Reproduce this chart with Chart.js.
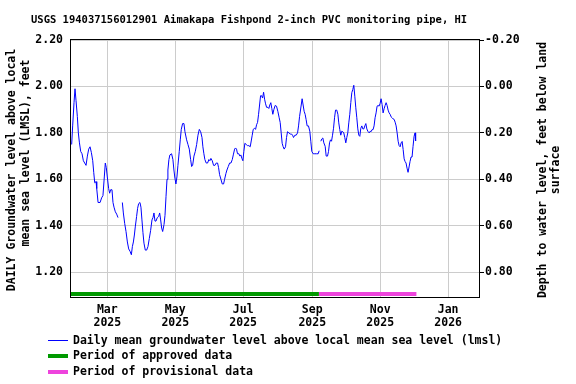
<!DOCTYPE html>
<html>
<head>
<meta charset="utf-8">
<script src="https://cdn.jsdelivr.net/npm/chart.js@4/dist/chart.umd.min.js"></script>
<style>
  body { margin: 0; background: #fff; }
  canvas { display: block; }
</style>
</head>
<body>
<canvas id="myChart" width="576" height="384"></canvas>
<script>
'use strict';

// days counted from 2025-01-01 (day 0), levels in feet above LMSL
let days = [
  27.0, 27.9, 29.1, 30.0, 30.9, 32.1, 33.0, 33.9, 35.1, 36.3, 37.5, 38.7, 39.9, 41.1, 42.3, 43.5,
  44.7, 45.9, 46.8, 47.7, 48.9, 49.5, 50.7, 52.5, 53.9, 55.1, 56.3, 57.2, 58.1, 59.0, 60.2, 61.1,
  62.0, 63.2, 64.1, 65.0, 66.2, 67.4, 68.6, 70.5, 72.5, 73.4, 74.6, 75.8, 77.0, 78.2, 79.4, 80.6,
  81.5, 82.4, 83.3, 84.1, 85.3, 86.2, 87.1, 88.3, 89.2, 90.1, 91.0, 91.9, 93.1, 94.3, 95.5, 96.7,
  97.9, 99.1, 100.0, 100.9, 101.8, 102.7, 103.9, 105.1, 106.0, 106.9, 107.8, 108.7, 109.9, 110.8,
  111.7, 112.6, 113.4, 114.3, 115.2, 116.7, 117.9, 118.8, 119.7, 120.6, 121.5, 122.4, 123.6, 124.5,
  125.4, 126.6, 127.8, 128.7, 130.2, 131.4, 132.6, 133.8, 134.7, 135.6, 136.8, 138.0, 139.2, 140.4,
  141.6, 142.8, 144.0, 144.8, 145.7, 146.6, 147.8, 149.0, 150.2, 151.1, 152.0, 153.2, 154.4, 155.6,
  156.8, 158.0, 158.9, 159.8, 161.0, 162.2, 163.4, 164.3, 165.5, 166.4, 167.6, 168.8, 170.0, 171.2,
  172.1, 173.3, 174.1, 175.0, 175.9, 177.1, 178.0, 178.9, 179.8, 180.7, 181.6, 182.5, 183.7, 184.9,
  186.1, 187.3, 188.2, 189.1, 190.0, 191.2, 192.1, 193.0, 193.9, 194.8, 195.7, 196.6, 197.5, 198.4,
  199.3, 200.2, 201.1, 202.0, 203.2, 204.0, 204.9, 205.8, 206.7, 207.6, 208.5, 209.7, 210.9, 212.1,
  213.3, 214.2, 215.1, 216.0, 216.9, 217.8, 219.0, 219.9, 220.8, 222.0, 223.2, 224.4, 225.3, 226.2,
  227.4, 228.6, 229.8, 230.7, 231.6, 233.1, 233.9, 234.8, 235.7, 236.6, 237.5, 238.4, 239.6, 240.8,
  241.7, 242.6, 243.8, 245.3, 246.8, 248.3, 249.2, 250.0, 250.7, 251.6, 252.5, 253.4, 254.6, 255.5,
  256.7, 257.6, 258.5, 259.4, 260.3, 261.2, 262.1, 263.0, 263.9, 265.0, 266.0, 266.8, 267.7, 268.6,
  269.5, 270.4, 271.3, 272.2, 273.1, 274.0, 274.9, 275.8, 276.7, 277.6, 278.5, 279.4, 280.3, 281.2,
  282.1, 283.0, 283.9, 284.8, 285.7, 286.6, 287.5, 288.4, 289.3, 290.2, 291.1, 292.0, 292.9, 294.1,
  295.0, 295.8, 296.7, 297.6, 298.5, 299.4, 300.3, 301.2, 302.1, 303.0, 303.9, 304.8, 305.7, 306.6,
  307.5, 308.4, 309.3, 310.2, 311.1, 312.0, 312.9, 313.8, 314.7, 315.6, 316.5, 317.4, 318.3, 319.2,
  320.1, 321.0, 321.9, 322.8, 323.7, 324.6, 325.5, 326.3, 327.2, 328.1, 329.0, 329.9, 330.8, 331.7,
  332.6, 333.5, 334.4, 335.3, 335.8
];
let levels = [
  1.75, 1.83, 1.93, 1.99, 1.94, 1.87, 1.80, 1.76, 1.72, 1.71, 1.68, 1.67, 1.66, 1.70, 1.73, 1.74,
  1.715, 1.68, 1.63, 1.585, 1.59, 1.56, 1.50, 1.50, 1.52, 1.53, 1.61, 1.67, 1.65, 1.61, 1.56, 1.54,
  1.555, 1.555, 1.50, 1.48, 1.46, 1.45, 1.435, null, 1.50, 1.455, 1.41, 1.375, 1.33, 1.30, 1.29, 1.275,
  1.31, 1.33, 1.36, 1.395, 1.44, 1.475, 1.495, 1.50, 1.48, 1.425, 1.37, 1.325, 1.295, 1.295, 1.31, 1.345,
  1.38, 1.425, 1.435, 1.455, 1.42, 1.42, 1.435, 1.44, 1.455, 1.425, 1.39, 1.375, 1.405, 1.445,
  1.525, 1.60, 1.64, 1.685, 1.705, 1.71, 1.685, 1.64, 1.605, 1.58, 1.61, 1.66, 1.72, 1.77,
  1.815, 1.84, 1.84, 1.805, 1.77, 1.75, 1.73, 1.685, 1.655, 1.66, 1.70, 1.72, 1.75, 1.79,
  1.815, 1.805, 1.78, 1.74, 1.71, 1.685, 1.67, 1.67, 1.685, 1.68, 1.69, 1.68, 1.66, 1.66,
  1.67, 1.67, 1.65, 1.62, 1.60, 1.58, 1.58, 1.60, 1.625, 1.64, 1.655, 1.67, 1.67, 1.685,
  1.705, 1.73, 1.735, 1.73, 1.71, 1.71, 1.70, 1.705, 1.69, 1.68, 1.72, 1.755, 1.75, 1.745,
  1.745, 1.74, 1.765, 1.79, 1.815, 1.82, 1.815, 1.835, 1.845, 1.88, 1.92, 1.96, 1.96, 1.95,
  1.975, 1.945, 1.925, 1.91, 1.91, 1.905, 1.92, 1.93, 1.905, 1.88, 1.90, 1.918, 1.915, 1.893,
  1.865, 1.845, 1.80, 1.755, 1.74, 1.73, 1.74, 1.78, 1.805, 1.80, 1.795, 1.795, 1.79, 1.78,
  1.79, 1.79, 1.80, 1.83, 1.87, 1.92, 1.947, 1.92, 1.893, 1.88, 1.857, 1.83, 1.83, 1.807,
  1.764, 1.72, 1.71, 1.71, 1.71, 1.71, 1.723, null, 1.764, 1.774, 1.778, 1.757, 1.742, 1.70,
  1.70, 1.72, 1.757, 1.77, 1.764, 1.79, 1.82, 1.865, 1.898, 1.898, 1.88, 1.843, 1.814, 1.79,
  1.807, 1.805, 1.80, 1.78, 1.757, 1.78, 1.80, 1.843, 1.88, 1.93, 1.973, 1.987, 2.005, 1.958,
  1.908, 1.865, 1.817, 1.79, 1.785, 1.82, 1.83, 1.817, 1.817, 1.83, 1.84, 1.817, 1.807, 1.80,
  1.807, 1.805, 1.814, 1.814, 1.83, 1.865, 1.886, 1.915, 1.918, 1.915, 1.927, 1.947, 1.922, 1.886,
  1.904, 1.918, 1.93, 1.918, 1.898, 1.886, 1.88, 1.869, 1.865, 1.86, 1.858, 1.846, 1.83, 1.80,
  1.764, 1.745, 1.74, 1.757, 1.763, 1.728, 1.688, 1.677, 1.67, 1.648, 1.63, 1.653, 1.677, 1.696,
  1.696, 1.742, 1.785, 1.80, 1.765
];

// land surface is 2.00 ft above LMSL -> depth = 2.00 - level
let landSurface = 2.0;

let tickDays = [59, 120, 181, 243, 304, 365];
let tickMonths = ['Mar', 'May', 'Jul', 'Sep', 'Nov', 'Jan'];
let tickYears = ['2025', '2025', '2025', '2025', '2025', '2026'];

let levelTicks = [1.2, 1.4, 1.6, 1.8, 2.0, 2.2];
let depthTicks = [-0.2, 0.0, 0.2, 0.4, 0.6, 0.8];

let approvedPeriod = [26.4, 249.0];
let provisionalPeriod = [249.0, 336.5];

let xMin = 26.4, xMax = 392.7;
let yMin = 1.093, yMax = 2.2;

let title = 'USGS 194037156012901 Aimakapa Fishpond 2-inch PVC monitoring pipe, HI';
let legendNames = [
  'Daily mean groundwater level above local mean sea level (lmsl)',
  'Period of approved data',
  'Period of provisional data'
];

let mono = '"DejaVu Sans Mono", monospace';
let blue = '#0000ff';
let green = '#009900';
let pink = '#ee44dd';

let points = [];
for (let i = 0; i < days.length; i++) {
  points.push({ x: days[i], y: levels[i] });
}

let extras = {
  id: 'extras',
  beforeDatasetsDraw(chart) {
    let ctx = chart.ctx;
    let a = chart.chartArea;
    let xs = chart.scales.x;
    ctx.save();
    ctx.fillStyle = green;
    let x0 = xs.getPixelForValue(approvedPeriod[0]);
    let x1 = xs.getPixelForValue(approvedPeriod[1]);
    ctx.fillRect(x0, a.bottom - 5, x1 - x0, 4);
    ctx.fillStyle = pink;
    x0 = xs.getPixelForValue(provisionalPeriod[0]);
    x1 = xs.getPixelForValue(provisionalPeriod[1]);
    ctx.fillRect(x0, a.bottom - 5, x1 - x0, 4);
    ctx.restore();
  },
  afterDraw(chart) {
    let ctx = chart.ctx;
    let a = chart.chartArea;
    ctx.save();
    // plot frame
    ctx.strokeStyle = '#000';
    ctx.lineWidth = 1;
    ctx.strokeRect(a.left - 0.5, a.top - 0.5, a.right - a.left + 1, a.bottom - a.top + 1);

    ctx.fillStyle = '#000';
    ctx.textBaseline = 'middle';

    // title
    ctx.font = 'bold 10.5px ' + mono;
    ctx.textAlign = 'left';
    ctx.fillText(title, 31, 20);

    // left axis title
    ctx.font = 'bold 11.5px ' + mono;
    ctx.textAlign = 'center';
    ctx.save();
    ctx.translate(12, 170);
    ctx.rotate(-Math.PI / 2);
    ctx.fillText('DAILY Groundwater level above local', 0, 0);
    ctx.restore();
    ctx.save();
    ctx.translate(26, 153);
    ctx.rotate(-Math.PI / 2);
    ctx.fillText('mean sea level (LMSL), feet', 0, 0);
    ctx.restore();

    // right axis title
    ctx.save();
    ctx.translate(543, 170);
    ctx.rotate(-Math.PI / 2);
    ctx.fillText('Depth to water level, feet below land', 0, 0);
    ctx.fillText('surface', 0, 13);
    ctx.restore();

    // legend
    ctx.textAlign = 'left';
    ctx.strokeStyle = blue;
    ctx.beginPath();
    ctx.moveTo(48, 340.5);
    ctx.lineTo(68, 340.5);
    ctx.stroke();
    ctx.fillStyle = green;
    ctx.fillRect(48, 354, 20, 4);
    ctx.fillStyle = pink;
    ctx.fillRect(48, 370, 20, 4);
    ctx.fillStyle = '#000';
    ctx.fillText(legendNames[0], 73, 341);
    ctx.fillText(legendNames[1], 73, 356);
    ctx.fillText(legendNames[2], 73, 372);
    ctx.restore();
  }
};

let ctx = document.getElementById('myChart').getContext('2d');
let chart = new Chart(ctx, {
  type: 'line',
  data: {
    datasets: [{
      label: legendNames[0],
      data: points,
      borderColor: blue,
      borderWidth: 1,
      pointRadius: 0,
      tension: 0,
      spanGaps: false,
      yAxisID: 'y'
    }]
  },
  options: {
    responsive: false,
    animation: false,
    devicePixelRatio: 1,
    layout: { padding: { left: 0, right: 0, top: 40, bottom: 54 } },
    plugins: {
      legend: { display: false },
      tooltip: { enabled: false }
    },
    scales: {
      x: {
        type: 'linear',
        min: xMin,
        max: xMax,
        afterBuildTicks(scale) {
          scale.ticks = tickDays.map(v => ({ value: v }));
        },
        afterFit(scale) { scale.height = 33; },
        grid: { color: '#cccccc', drawTicks: false },
        border: { display: false },
        ticks: {
          autoSkip: false,
          maxRotation: 0,
          padding: 7,
          color: '#000',
          font: { family: mono, size: 11.5, weight: 'bold', lineHeight: 1.1 },
          callback(value) {
            let i = tickDays.indexOf(value);
            return i < 0 ? '' : [tickMonths[i], tickYears[i]];
          }
        }
      },
      y: {
        position: 'left',
        min: yMin,
        max: yMax,
        afterBuildTicks(scale) {
          scale.ticks = levelTicks.map(v => ({ value: v }));
        },
        afterFit(scale) { scale.width = 71; },
        grid: { color: '#cccccc', drawTicks: false },
        border: { display: false },
        ticks: {
          padding: 8,
          color: '#000',
          font: { family: mono, size: 11.5, weight: 'bold' },
          callback(value) { return value.toFixed(2); }
        }
      },
      y2: {
        position: 'right',
        reverse: true,
        min: landSurface - yMax,
        max: landSurface - yMin,
        afterBuildTicks(scale) {
          scale.ticks = depthTicks.map(v => ({ value: v }));
        },
        afterFit(scale) { scale.width = 97; },
        grid: { drawOnChartArea: false, drawTicks: true, tickLength: 5, color: '#000' },
        border: { display: false },
        ticks: {
          padding: 1,
          color: '#000',
          font: { family: mono, size: 11.5, weight: 'bold' },
          callback(value) { return value.toFixed(2); }
        }
      }
    }
  },
  plugins: [extras]
});
</script>
</body>
</html>
